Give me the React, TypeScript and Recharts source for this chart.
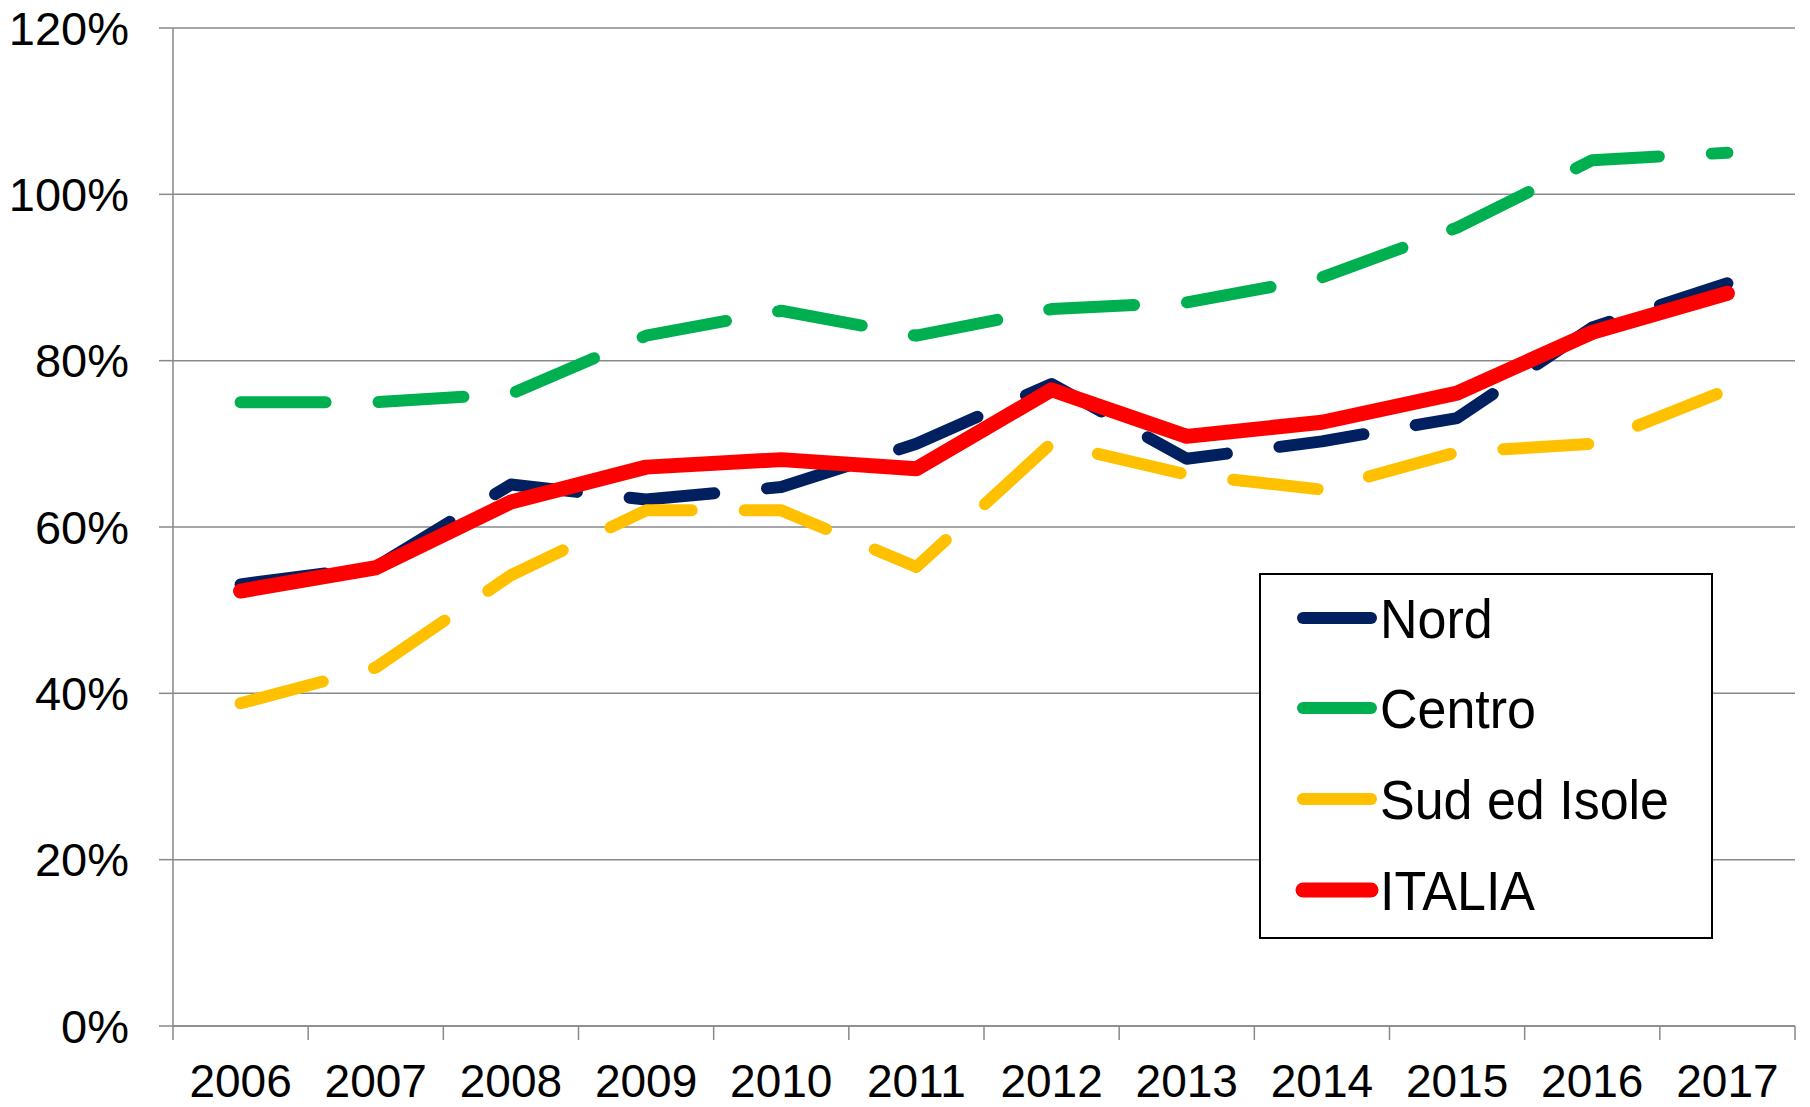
import React from 'react';
import { LineChart, Line, XAxis, YAxis, CartesianGrid, Legend } from 'recharts';

const years = ['2006', '2007', '2008', '2009', '2010', '2011', '2012', '2013', '2014', '2015', '2016', '2017'];
const nord = [53.1, 55.2, 65.1, 63.3, 64.8, 70.0, 77.2, 68.2, 70.3, 73.1, 84.0, 89.3];
const centro = [75.0, 75.0, 76.0, 83.0, 86.0, 83.0, 86.2, 87.0, 90.0, 96.0, 104.1, 105.0];
const sud = [38.8, 43.1, 54.2, 62.0, 62.0, 55.2, 70.1, 66.3, 64.5, 69.0, 70.0, 76.5];
const italia = [52.3, 55.1, 63.0, 67.2, 68.1, 67.0, 76.5, 70.9, 72.6, 76.1, 83.4, 88.1];
const yTicks = [0, 20, 40, 60, 80, 100, 120];

const seriesNames = ['Nord', 'Centro', 'Sud ed Isole', 'ITALIA'];
const seriesColors = ['#002060', '#00B050', '#FFC000', '#FF0000'];
const seriesValues = [nord, centro, sud, italia];

const data = years.map((y, i) => {
  const row: any = { x: i + 0.5, year: y };
  seriesNames.forEach((n, k) => {
    row[n] = seriesValues[k][i];
  });
  return row;
});

const xTicks: number[] = [];
for (let i = 0; i <= years.length; i++) {
  xTicks.push(i);
  if (i < years.length) xTicks.push(i + 0.5);
}

const FONT = "'Liberation Sans', Arial, Helvetica, sans-serif";
const GRID = '#898989';
const X_MARGIN = 38;

const XTick = (props: any) => {
  const { x, y, payload } = props;
  const v = payload.value;
  if (Number.isInteger(v)) {
    return <line x1={x} x2={x} y1={y - X_MARGIN} y2={y - X_MARGIN + 14} stroke={GRID} strokeWidth={1.5} />;
  }
  const label = years[Math.floor(v)];
  return (
    <text x={x} y={y} dy="0.71em" textAnchor="middle" fontSize={46} fill="#000" fontFamily={FONT}>
      {label}
    </text>
  );
};

const LegendBox = () => {
  const rowY = [45, 135, 226, 317];
  return (
    <svg width={454} height={366} style={{ display: 'block' }}>
      <rect x={1} y={1} width={452} height={364} fill="#fff" stroke="#000" strokeWidth={2} />
      {seriesNames.map((name, i) => (
        <g key={name}>
          <line
            x1={44}
            x2={112}
            y1={rowY[i]}
            y2={rowY[i]}
            stroke={seriesColors[i]}
            strokeWidth={i === 3 ? 15 : 12}
            strokeLinecap="round"
          />
          <text
            transform={`translate(121, ${rowY[i]}) scale(1, 1.05)`}
            dy="0.36em"
            fontSize={52}
            fill="#000"
            fontFamily={FONT}
          >
            {name}
          </text>
        </g>
      ))}
    </svg>
  );
};

export default function App() {
  return (
    <div style={{ position: 'absolute', left: 0, top: 0, width: 1810, height: 1107, background: '#fff' }}>
      <LineChart
        width={1810}
        height={1107}
        data={data}
        margin={{ top: 28, right: 15, left: 0, bottom: 0 }}
        style={{ fontFamily: FONT }}
      >
        <CartesianGrid vertical={false} stroke={GRID} strokeWidth={1.5} />
        <XAxis
          dataKey="x"
          type="number"
          domain={[0, years.length]}
          ticks={xTicks}
          interval={0}
          height={81}
          tickSize={0}
          tickMargin={X_MARGIN}
          tickLine={false}
          axisLine={{ stroke: GRID, strokeWidth: 1.5 }}
          tick={<XTick />}
        />
        <YAxis
          type="number"
          domain={[0, 120]}
          ticks={yTicks}
          interval={0}
          width={173}
          tickSize={14}
          tickMargin={30}
          tickFormatter={(v: number) => `${v}%`}
          tick={{ fill: '#000', fontSize: 47, fontFamily: FONT }}
          tickLine={{ stroke: GRID, strokeWidth: 1.5 }}
          axisLine={{ stroke: GRID, strokeWidth: 1.5 }}
        />
        <Legend
          layout="horizontal"
          verticalAlign="middle"
          align="center"
          content={<LegendBox />}
          wrapperStyle={{ left: 1259, top: 573, width: 454, height: 366 }}
        />
        {seriesNames.map((n, k) => (
          <Line
            key={n}
            type="linear"
            dataKey={n}
            name={n}
            stroke={seriesColors[k]}
            strokeWidth={k === 3 ? 15 : 12}
            strokeDasharray={k === 3 ? undefined : '85 53'}
            strokeLinecap="round"
            strokeLinejoin="round"
            dot={false}
            activeDot={false}
            isAnimationActive={false}
          />
        ))}
      </LineChart>
    </div>
  );
}
